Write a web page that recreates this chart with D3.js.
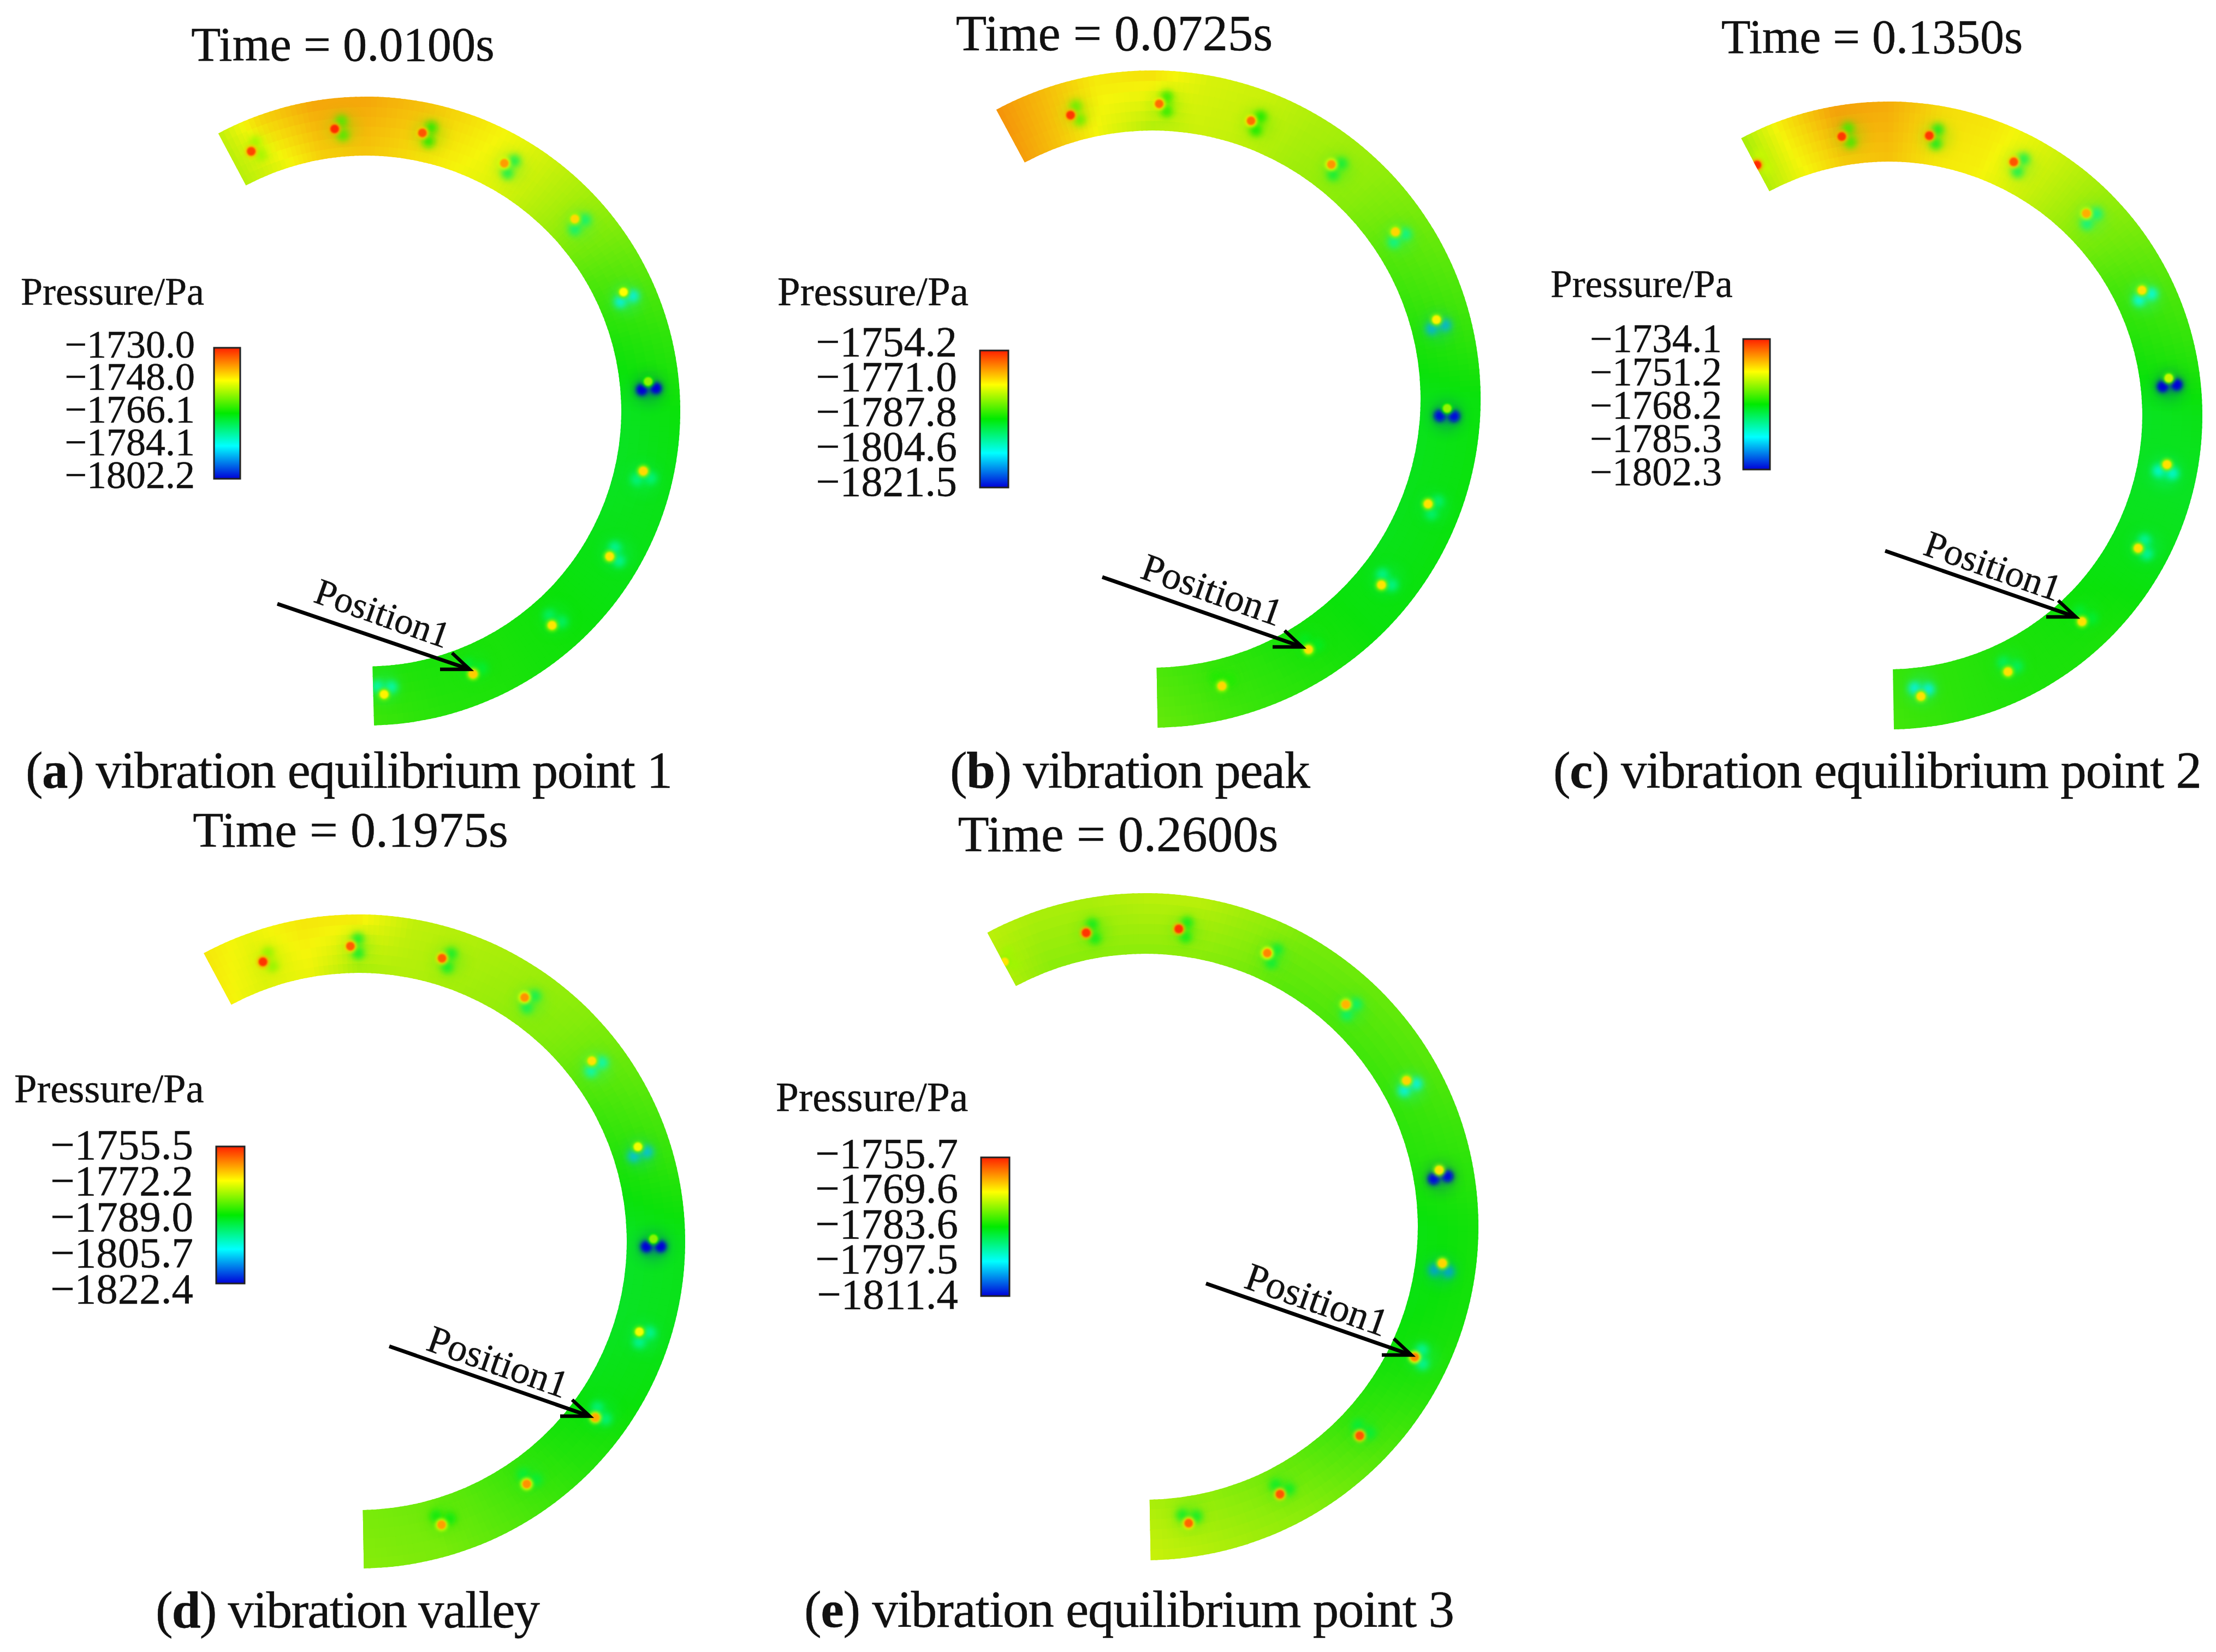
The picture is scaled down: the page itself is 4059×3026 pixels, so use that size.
<!DOCTYPE html>
<html>
<head>
<meta charset="utf-8">
<script src="https://cdn.jsdelivr.net/npm/d3@7"></script>
<style>
  body { margin: 0; background: #fff; }
  text { font-family: "Liberation Serif", serif; fill: #111; stroke: #111; stroke-width: 0.5px; }
</style>
</head>
<body>
<div id="chart"></div>
<script>
// tempos e legendas
const times = ['0.0100', '0.0725', '0.1350', '0.1975', '0.2600'];
const letters = ['a', 'b', 'c', 'd', 'e'];
const captions = ['vibration equilibrium point 1', 'vibration peak', 'vibration equilibrium point 2', 'vibration valley', 'vibration equilibrium point 3'];

const ticksA = [-1730.0, -1748.0, -1766.1, -1784.1, -1802.2];
const ticksB = [-1754.2, -1771.0, -1787.8, -1804.6, -1821.5];
const ticksC = [-1734.1, -1751.2, -1768.2, -1785.3, -1802.3];
const ticksD = [-1755.5, -1772.2, -1789.0, -1805.7, -1822.4];
const ticksE = [-1755.7, -1769.6, -1783.6, -1797.5, -1811.4];

// pressao lida ao longo do anel, na borda externa e interna
const angleStops = [-28, -20, -10, 0, 10, 20, 30, 45, 60, 75, 90, 105, 120, 135, 150, 165, 180];
const outerA = [-1752, -1745, -1741, -1741, -1743, -1746, -1749, -1754, -1759, -1763, -1766, -1767, -1767, -1766, -1765, -1764, -1762];
const innerA = [-1753, -1750, -1745, -1744, -1746, -1748, -1750, -1755, -1761, -1765, -1768, -1768, -1767, -1766, -1765, -1765, -1764];
const outerB = [-1763, -1766, -1770, -1769, -1773, -1774, -1776, -1778, -1781, -1784, -1788, -1788, -1788, -1788, -1786, -1784, -1781];
const innerB = [-1764, -1767, -1772, -1776, -1774, -1775, -1777, -1779, -1783, -1786, -1789, -1789, -1789, -1788, -1787, -1785, -1783];
const outerC = [-1757, -1750, -1744, -1745, -1749, -1750, -1753, -1758, -1762, -1765, -1769, -1770, -1769, -1767, -1767, -1766, -1764];
const innerC = [-1756, -1752, -1748, -1747, -1750, -1751, -1754, -1759, -1764, -1767, -1770, -1770, -1769, -1768, -1767, -1766, -1765];
const outerD = [-1771, -1773, -1771, -1771, -1776, -1777, -1778, -1780, -1783, -1786, -1790, -1790, -1789, -1787, -1784, -1781, -1780];
const innerD = [-1772, -1774, -1773, -1778, -1777, -1778, -1779, -1781, -1785, -1788, -1791, -1791, -1790, -1788, -1785, -1782, -1781];
const outerE = [-1773, -1774, -1774, -1773, -1773, -1775, -1777, -1778, -1779, -1781, -1783, -1783, -1782, -1779, -1776, -1774, -1772];
const innerE = [-1774, -1776, -1776, -1776, -1776, -1777, -1779, -1780, -1781, -1782, -1784, -1784, -1783, -1781, -1778, -1776, -1774];

// furos: angulo, pressao no centro e nos lobulos ao lado
const holeAnglesA = [-23.8, -6.3, 11.5, 29.2, 47.4, 65.2, 84, 102.2, 120.8, 139, 157.8, 176.3];
const holeDotsA = [-1733, -1731, -1734, -1740, -1745, -1748, -1756, -1745, -1746, -1746, -1744, -1747];
const holeLobesA = [-1755, -1762, -1765, -1772, -1775, -1785, -1802, -1776, -1778, -1774, -1770, -1780];
const holeAnglesB = [-16, 1.4, 19.6, 37.4, 55.5, 74.4, 91.8, 110.8, 129, 148, 166.3];
const holeDotsB = [-1756, -1760, -1760, -1763, -1768, -1770, -1778, -1769, -1769, -1769, -1768];
const holeLobesB = [-1782, -1786, -1788, -1792, -1798, -1810, -1821, -1796, -1798, -1790, -1786];
const holeAnglesC = [-27.7, -9.5, 8.3, 26.3, 44.4, 63.7, 82.4, 100, 118, 136.8, 155, 173.4];
const holeDotsC = [-1735, -1736, -1736, -1738, -1745, -1749, -1755, -1749, -1749, -1749, -1749, -1749];
const holeLobesC = [-1755, -1765, -1770, -1774, -1778, -1785, -1802, -1784, -1780, -1772, -1775, -1786];
const holeAnglesD = [-18.8, -1.5, 16.5, 34.3, 52.3, 71.3, 89.5, 107.8, 126.6, 145.2, 163.6];
const holeDotsD = [-1757, -1760, -1760, -1764, -1770, -1773, -1780, -1773, -1766, -1764, -1765];
const holeLobesD = [-1780, -1792, -1792, -1795, -1802, -1810, -1822, -1800, -1798, -1793, -1790];
const holeAnglesE = [-27.9, -11.3, 6.5, 24.1, 42.1, 60.8, 79.1, 97, 115.8, 134.2, 153.2, 171.6];
const holeDotsE = [-1768, -1757, -1757, -1762, -1765, -1767, -1768, -1767, -1762, -1759, -1759, -1760];
const holeLobesE = [-1775, -1785, -1785, -1787, -1790, -1798, -1811, -1803, -1793, -1787, -1786, -1786];

// direcao da mancha ao redor de cada furo, conforme a posicao no anel
const lobeDirDomain = [-30, 100, 115, 135, 180];
const lobeDirRange = [60, 190, 90, 30, 0];

// paineis: geometria em pixels
const panels = [
  { ticks: ticksA, outer: outerA, inner: innerA, holes: holeAnglesA, dots: holeDotsA, lobes: holeLobesA,
    cx: 670, cy: 753, R: 576, r: 468, rHole: 520, from: -28, to: 178.5,
    time: [628, 111, 88.5], cap: [47, 1443, 1185],
    leg: { title: [38, 558, 72], bar: [392, 637, 48, 240], lab: [357, 631, 870, 72] },
    arrow: [508, 1106, 860, 1226], pos: [572, 1102, 68] },
  { ticks: ticksB, outer: outerB, inner: innerB, holes: holeAnglesB, dots: holeDotsB, lobes: holeLobesB,
    cx: 2110, cy: 731, R: 602, r: 492, rHole: 541, from: -28.3, to: 179,
    time: [2041, 92, 92.5], cap: [1740, 1443, 660],
    leg: { title: [1424, 559, 75], bar: [1795, 642, 52, 251], lab: [1753, 627, 883, 78] },
    arrow: [2019, 1057, 2385, 1185], pos: [2086, 1058, 71] },
  { ticks: ticksC, outer: outerC, inner: innerC, holes: holeAnglesC, dots: holeDotsC, lobes: holeLobesC,
    cx: 3459, cy: 761, R: 575, r: 465, rHole: 518, from: -28, to: 179,
    time: [3429, 97, 88], cap: [2845, 1443, 1188],
    leg: { title: [2840, 544, 71.5], bar: [3193, 621, 49, 239], lab: [3154, 621, 865, 73] },
    arrow: [3453, 1009, 3802, 1130], pos: [3520, 1015, 69] },
  { ticks: ticksD, outer: outerD, inner: innerD, holes: holeAnglesD, dots: holeDotsD, lobes: holeLobesD,
    cx: 656, cy: 2274, R: 599, r: 492, rHole: 541, from: -28.2, to: 179,
    time: [642, 1551, 92], cap: [285, 2981, 704],
    leg: { title: [26, 2019, 74.5], bar: [396, 2100, 52, 251], lab: [354, 2097, 2361, 79] },
    arrow: [713, 2466, 1080, 2594], pos: [778, 2472, 71] },
  { ticks: ticksE, outer: outerE, inner: innerE, holes: holeAnglesE, dots: holeDotsE, lobes: holeLobesE,
    cx: 2097, cy: 2247, R: 611, r: 500, rHole: 549, from: -28.2, to: 179,
    time: [2048, 1559, 93.5], cap: [1473, 2980, 1191],
    leg: { title: [1421, 2035, 75.5], bar: [1797, 2120, 52, 254], lab: [1755, 2113, 2371, 79] },
    arrow: [2209, 2351, 2585, 2482], pos: [2276, 2358, 72] }
];

const rainbow = ['#ff2000', '#ffff00', '#00ea00', '#00ffff', '#0000d8'];
const rad = Math.PI / 180;
const mute = c => d3.interpolateRgb(c, '#808080')(0.08);

const svg = d3.select('#chart').append('svg')
  .attr('width', 4059)
  .attr('height', 3026)
  .attr('viewBox', '0 0 4059 3026');
const defs = svg.append('defs');

[[1.5, 'b1'], [3, 'b3'], [6, 'b6'], [14, 'b14']].forEach(([s, id]) => {
  defs.append('filter').attr('id', id)
    .attr('x', '-100%').attr('y', '-100%').attr('width', '300%').attr('height', '300%')
    .append('feGaussianBlur').attr('stdDeviation', s);
});

const polar = (p, rho, deg) => [p.cx + rho * Math.sin(deg * rad), p.cy - rho * Math.cos(deg * rad)];
const lobeDir = d3.scaleLinear().domain(lobeDirDomain).range(lobeDirRange);

panels.forEach((p, i) => {
  const color = d3.scaleLinear().domain(p.ticks).range(rainbow).clamp(true);
  const g = svg.append('g').attr('class', 'painel-' + letters[i]);

  // anel: celulas pequenas coloridas pela pressao
  const outerAt = d3.scaleLinear().domain(angleStops).range(p.outer);
  const innerAt = d3.scaleLinear().domain(angleStops).range(p.inner);
  const bands = d3.range(6);
  const steps = d3.range(p.from, p.to, 1);
  const bandH = (p.R - p.r) / bands.length;
  const arc = d3.arc();
  const clip = 'ring-' + letters[i];
  defs.append('clipPath').attr('id', clip).append('path')
    .attr('transform', `translate(${p.cx},${p.cy})`)
    .attr('d', arc({ innerRadius: p.r, outerRadius: p.R, startAngle: p.from * rad, endAngle: p.to * rad }));
  const field = g.append('g').attr('clip-path', `url(#${clip})`);
  field.append('g')
    .attr('transform', `translate(${p.cx},${p.cy})`)
    .selectAll('path')
    .data(d3.cross(steps, bands))
    .enter()
    .append('path')
    .attr('d', ([a, b]) => arc({
      innerRadius: p.r + b * bandH - 1,
      outerRadius: p.r + (b + 1) * bandH + 1,
      startAngle: a * rad,
      endAngle: Math.min(a + 1.4, p.to + 0.5) * rad
    }))
    .attr('fill', ([a, b]) => mute(color(innerAt(a + 0.5) + (outerAt(a + 0.5) - innerAt(a + 0.5)) * (b + 0.5) / bands.length)));

  // furos
  const span = p.ticks[0] - p.ticks[4];
  const holes = p.holes.map((a, k) => {
    const [x, y] = polar(p, p.rHole, a);
    return { a, x, y, dir: lobeDir(a) * rad, dot: p.dots[k], lobe: p.lobes[k] };
  });
  const spots = field.append('g');
  const lobeX = (d, s) => d.x + 14 * Math.sin(d.dir) + s * 13 * Math.cos(d.dir);
  const lobeY = (d, s) => d.y - 14 * Math.cos(d.dir) + s * 13 * Math.sin(d.dir);
  spots.selectAll('circle.halo').data(holes).enter().append('circle')
    .attr('class', 'halo')
    .attr('cx', d => lobeX(d, 0)).attr('cy', d => lobeY(d, 0))
    .attr('r', 24).attr('fill', d => color(d.lobe)).attr('opacity', 0.3)
    .attr('filter', 'url(#b14)');
  [-1, 1].forEach(s => {
    spots.selectAll('circle.lobe' + s).data(holes).enter().append('circle')
      .attr('class', 'lobe' + s)
      .attr('cx', d => lobeX(d, s)).attr('cy', d => lobeY(d, s))
      .attr('r', 11).attr('fill', d => color(d.lobe)).attr('opacity', 0.8)
      .attr('filter', 'url(#b6)');
    // so os lobulos mais fundos ficam com miolo escuro
    spots.selectAll('circle.deep' + s).data(holes.filter(d => d.lobe < p.ticks[4] + span * 0.12)).enter().append('circle')
      .attr('class', 'deep' + s)
      .attr('cx', d => lobeX(d, s)).attr('cy', d => lobeY(d, s))
      .attr('r', 9).attr('fill', d => color(d.lobe))
      .attr('filter', 'url(#b3)');
  });
  spots.selectAll('circle.rim').data(holes).enter().append('circle')
    .attr('class', 'rim')
    .attr('cx', d => d.x).attr('cy', d => d.y)
    .attr('r', 11).attr('fill', d => color(d.dot - span * 0.14))
    .attr('filter', 'url(#b3)');
  spots.selectAll('circle.core').data(holes).enter().append('circle')
    .attr('class', 'core')
    .attr('cx', d => d.x).attr('cy', d => d.y)
    .attr('r', 8).attr('fill', d => color(d.dot))
    .attr('filter', 'url(#b1)');

  // titulo do tempo
  g.append('text')
    .attr('x', p.time[0]).attr('y', p.time[1])
    .attr('text-anchor', 'middle')
    .attr('font-size', p.time[2])
    .text(`Time = ${times[i]}s`);

  // legenda de cor
  g.append('text')
    .attr('x', p.leg.title[0]).attr('y', p.leg.title[1])
    .attr('font-size', p.leg.title[2])
    .text('Pressure/Pa');

  const gradId = 'grad-' + letters[i];
  const grad = defs.append('linearGradient').attr('id', gradId)
    .attr('x1', 0).attr('y1', 0).attr('x2', 0).attr('y2', 1);
  p.ticks.forEach(t => {
    grad.append('stop').attr('offset', (p.ticks[0] - t) / span).attr('stop-color', color(t));
  });
  g.append('rect')
    .attr('x', p.leg.bar[0]).attr('y', p.leg.bar[1])
    .attr('width', p.leg.bar[2]).attr('height', p.leg.bar[3])
    .attr('fill', `url(#${gradId})`)
    .attr('stroke', '#222').attr('stroke-width', 3);

  const legY = d3.scaleLinear().domain([p.ticks[0], p.ticks[4]]).range([p.leg.lab[1], p.leg.lab[2]]);
  const axis = g.append('g')
    .attr('transform', `translate(${p.leg.lab[0]},0)`)
    .call(d3.axisLeft(legY).tickValues(p.ticks).tickSize(0).tickPadding(0).tickFormat(d3.format('.1f')));
  axis.select('.domain').remove();
  axis.attr('font-family', null).attr('font-size', null);
  axis.selectAll('text').attr('font-size', p.leg.lab[3]);

  // seta e rotulo
  const [x0, y0, x1, y1] = p.arrow;
  g.append('path')
    .attr('d', d3.line()([[x0, y0], [x1, y1]]))
    .attr('fill', 'none').attr('stroke', '#000').attr('stroke-width', 7);
  g.append('path')
    .attr('d', d3.line()([[x1 - 54, y1], [x1, y1], [x1 - 32, y1 - 30]]))
    .attr('fill', 'none').attr('stroke', '#000').attr('stroke-width', 6.5);
  g.append('text')
    .attr('transform', `translate(${p.pos[0]},${p.pos[1]}) rotate(19.5)`)
    .attr('font-size', p.pos[2])
    .text('Position1');

  // legenda do painel
  const cap = g.append('text')
    .attr('x', p.cap[0]).attr('y', p.cap[1])
    .attr('font-size', 95);
  cap.append('tspan').text('(');
  cap.append('tspan').attr('font-weight', 'bold').text(letters[i]);
  cap.append('tspan').text(') ' + captions[i]);
  const n = cap.text().length;
  const w = cap.node().getComputedTextLength();
  cap.attr('letter-spacing', (p.cap[2] - w) / (n - 1));
});
</script>
</body>
</html>
